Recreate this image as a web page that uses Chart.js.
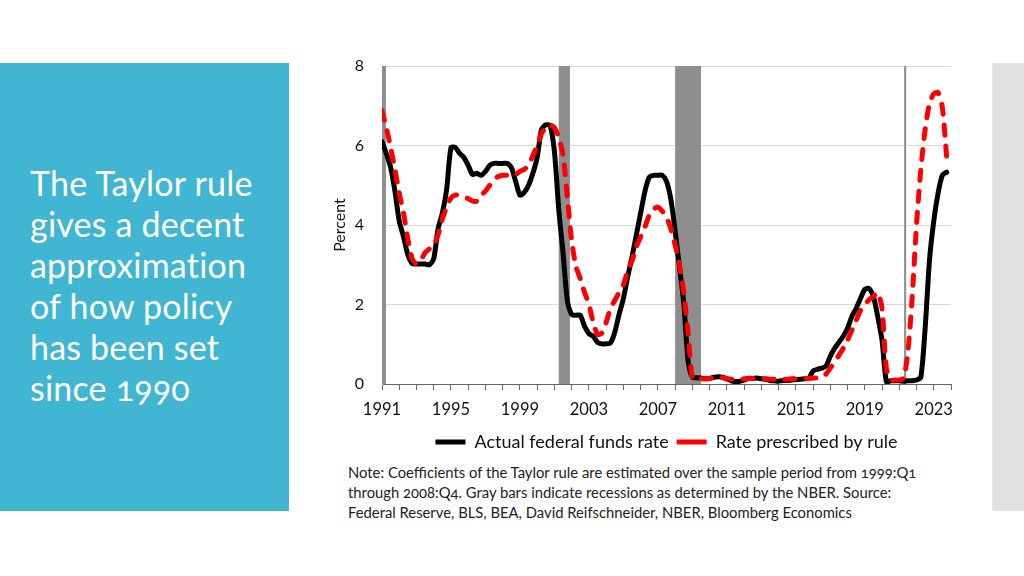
<!DOCTYPE html>
<html lang="en">
<head>
    <meta charset="UTF-8" />
    <title>Taylor rule vs actual federal funds rate</title>
    <script src="https://cdn.jsdelivr.net/npm/chart.js"></script>
    <style>
        body { margin: 0; width: 1024px; height: 576px; background: #fff; font-family: Lato, sans-serif; position: relative; overflow: hidden; }
        .panel { position: absolute; left: 0; top: 63px; width: 289px; height: 448px; background: #40b6d2; }
        .panel h1 { position: absolute; left: 30px; top: 99px; margin: 0; font-weight: normal; font-size: 34px; line-height: 41px; color: #fff; font-variant-numeric: oldstyle-nums; letter-spacing: 0.2px; white-space: nowrap; }
        .side { position: absolute; left: 992px; top: 63px; width: 32px; height: 448px; background: #e1e1e1; border-left: 1px solid #ececec; }
        .chartBox { position: absolute; left: 320px; top: 50px; width: 660px; height: 411px; }
        .note { position: absolute; left: 348px; top: 462px; width: 588px; font-size: 14.8px; line-height: 20px; color: #222; font-variant-numeric: oldstyle-nums; }
    </style>
</head>
<body>

<div class="panel"><h1>The Taylor rule<br>gives a decent<br>approximation<br>of how policy<br>has been set<br>since 1990</h1></div>
<div class="side"></div>

<div class="chartBox"><canvas id="taylorChart" width="660" height="411"></canvas></div>

<div class="note">Note: Coefficients of the Taylor rule are estimated over the sample period from 1999:Q1 through 2008:Q4. Gray bars indicate recessions as determined by the NBER. Source: Federal Reserve, BLS, BEA, David Reifschneider, NBER, Bloomberg Economics</div>

<script>
// quarterly data, 1991Q1 - 2023Q4
const firstYear = 1991;
const lastYear = 2023;

const actualRate = [
    6.10, 5.80, 5.45, 4.85,   // 1991
    4.10, 3.70, 3.25, 3.03,
    3.02, 3.02, 3.02, 3.00,
    3.15, 3.90, 4.30, 4.90,
    5.95, 5.95, 5.80, 5.70,   // 1995
    5.50, 5.27, 5.30, 5.25,
    5.35, 5.50, 5.55, 5.55,
    5.55, 5.55, 5.45, 5.10,
    4.75, 4.82, 5.00, 5.30,   // 1999
    5.70, 6.40, 6.52, 6.50,
    5.85, 4.40, 3.30, 2.10,
    1.75, 1.73, 1.73, 1.45,
    1.27, 1.20, 1.05, 1.01,   // 2003
    1.01, 1.03, 1.30, 1.75,
    2.15, 2.70, 3.20, 3.75,
    4.30, 4.85, 5.20, 5.25,
    5.25, 5.25, 5.10, 4.65,   // 2007
    3.85, 2.95, 2.05, 0.60,
    0.17, 0.16, 0.15, 0.13,
    0.14, 0.17, 0.18, 0.17,
    0.13, 0.08, 0.06, 0.07,   // 2011
    0.10, 0.14, 0.14, 0.15,
    0.13, 0.12, 0.09, 0.08,
    0.07, 0.09, 0.09, 0.10,
    0.11, 0.12, 0.13, 0.14,   // 2015
    0.33, 0.37, 0.40, 0.45,
    0.70, 0.90, 1.05, 1.20,
    1.40, 1.70, 1.90, 2.15,
    2.38, 2.40, 2.20, 1.70,   // 2019
    1.10, 0.06, 0.08, 0.08,
    0.08, 0.07, 0.08, 0.08,
    0.10, 0.17, 1.40, 3.10,
    4.10, 4.80, 5.25, 5.33    // 2023
];

const ruleRate = [
    6.88, 6.45, 5.95, 5.40,   // 1991
    4.80, 4.30, 3.65, 3.15,
    3.02, 3.12, 3.30, 3.40,
    3.50, 3.75, 4.15, 4.45,
    4.68, 4.75, 4.75, 4.72,   // 1995
    4.66, 4.60, 4.60, 4.75,
    4.85, 5.00, 5.15, 5.22,
    5.25, 5.25, 5.25, 5.27,
    5.35, 5.40, 5.50, 5.75,   // 1999
    6.00, 6.30, 6.45, 6.52,
    6.45, 6.20, 5.75, 4.70,
    3.60, 2.95, 2.65, 2.30,
    2.00, 1.55, 1.25, 1.28,   // 2003
    1.55, 1.90, 2.10, 2.30,
    2.50, 2.85, 3.10, 3.45,
    3.70, 3.95, 4.25, 4.40,
    4.45, 4.35, 4.20, 3.90,   // 2007
    3.50, 3.00, 2.30, 1.30,
    0.15, 0.13, 0.13, 0.13,
    0.14, 0.16, 0.17, 0.16,
    0.13, 0.12, 0.12, 0.12,   // 2011
    0.13, 0.14, 0.14, 0.14,
    0.13, 0.13, 0.12, 0.12,
    0.12, 0.12, 0.12, 0.13,
    0.13, 0.13, 0.14, 0.14,   // 2015
    0.15, 0.15, 0.17, 0.25,
    0.40, 0.55, 0.72, 0.90,
    1.10, 1.35, 1.60, 1.85,
    2.00, 2.12, 2.20, 2.30,   // 2019
    1.90, 0.40, 0.10, 0.10,
    0.10, 0.15, 0.80, 2.20,
    4.00, 5.40, 6.40, 7.05,
    7.30, 7.33, 6.95, 5.70    // 2023
];

// recession shading (as placed in the original chart)
const recessionStart = [1991.0, 2001.25, 2008.0, 2021.28];
const recessionEnd   = [1991.23, 2001.9, 2009.5, 2021.4];

const yTicks = [0, 2, 4, 6, 8];
const labelYears = [1991, 1995, 1999, 2003, 2007, 2011, 2015, 2019, 2023];

const quarterX = [];
for (let y = firstYear; y <= lastYear; y++) {
    for (let q = 0; q < 4; q++) quarterX.push(y + q / 4);
}

const toPoints = arr => arr.map((v, i) => ({ x: quarterX[i], y: v }));

// grey recession bands, drawn behind the lines
const recessionBars = {
    id: 'recessionBars',
    beforeDatasetsDraw(chart) {
        const { ctx, chartArea, scales } = chart;
        ctx.save();
        ctx.fillStyle = '#8e8e8e';
        recessionStart.forEach((s, i) => {
            const x1 = scales.x.getPixelForValue(s);
            const x2 = scales.x.getPixelForValue(recessionEnd[i]);
            ctx.fillRect(x1, chartArea.top, Math.max(x2 - x1, 2), chartArea.bottom - chartArea.top);
        });
        ctx.restore();
    }
};

const ctx = document.getElementById('taylorChart').getContext('2d');
new Chart(ctx, {
    type: 'line',
    data: {
        datasets: [
            {
                label: 'Actual federal funds rate',
                data: toPoints(actualRate),
                borderColor: '#000',
                backgroundColor: '#000',
                borderWidth: 5,
                pointRadius: 0,
                tension: 0.25,
                borderCapStyle: 'round',
                borderJoinStyle: 'round',
                pointStyle: 'line',
                order: 2
            },
            {
                label: 'Rate prescribed by rule',
                data: toPoints(ruleRate),
                borderColor: '#ff0000',
                backgroundColor: '#ff0000',
                borderWidth: 5,
                borderDash: [10, 11],
                borderCapStyle: 'round',
                borderJoinStyle: 'round',
                pointRadius: 0,
                tension: 0.25,
                pointStyle: 'line',
                order: 1
            }
        ]
    },
    options: {
        responsive: false,
        animation: false,
        layout: { padding: { top: 16, right: 29, left: 0, bottom: 0 } },
        plugins: {
            tooltip: { enabled: false },
            legend: {
                position: 'bottom',
                fullSize: false,
                labels: {
                    usePointStyle: true,
                    pointStyleWidth: 30,
                    color: '#111',
                    font: { family: 'Lato', size: 18 },
                    padding: 8,
                    sort: (a, b) => a.datasetIndex - b.datasetIndex
                }
            }
        },
        scales: {
            x: {
                type: 'linear',
                min: firstYear,
                max: lastYear + 1,
                afterFit: s => { s.height = 41; },
                ticks: {
                    stepSize: 1,
                    autoSkip: false,
                    maxRotation: 0,
                    padding: 10,
                    color: '#111',
                    font: { family: 'Lato', size: 16.5 },
                    callback: v => labelYears.includes(v) ? String(v) : ''
                },
                grid: { drawOnChartArea: false, tickLength: 6, color: '#666' },
                border: { color: '#666', width: 1 }
            },
            y: {
                min: 0,
                max: 8,
                afterFit: s => { s.width = 62; },
                afterBuildTicks: s => { s.ticks = yTicks.map(v => ({ value: v })); },
                ticks: {
                    padding: 0,
                    color: '#111',
                    font: { family: 'Lato', size: 16 }
                },
                title: {
                    display: true,
                    text: 'Percent',
                    color: '#111',
                    font: { family: 'Lato', size: 16 },
                    padding: { top: 10, bottom: 0 }
                },
                // invisible tick marks keep the labels off the axis
                grid: { color: '#d9d9d9', drawTicks: true, tickLength: 18, tickColor: 'rgba(0,0,0,0)' },
                border: { color: '#d9d9d9' }
            }
        }
    },
    plugins: [recessionBars]
});
</script>

</body>
</html>
